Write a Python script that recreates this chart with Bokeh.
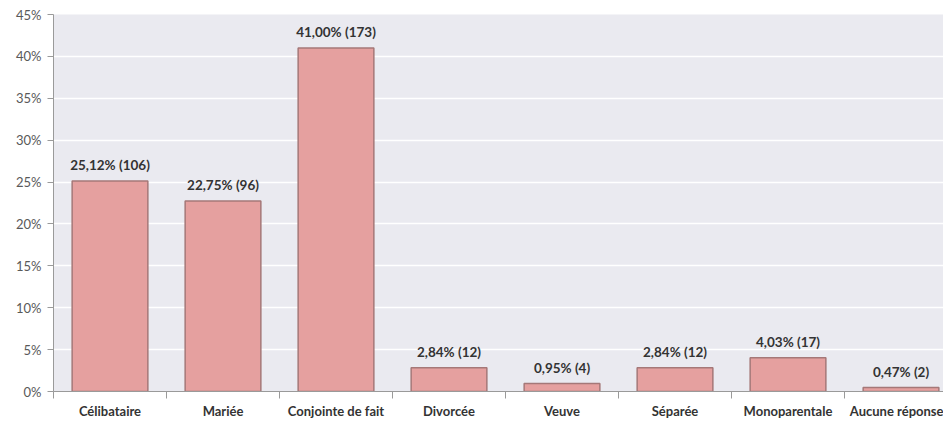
from bokeh.plotting import figure
from bokeh.models import ColumnDataSource, Range1d, FixedTicker
from bokeh.core.properties import value
from bokeh.embed import file_html
from bokeh.resources import INLINE

categories = ["Célibataire", "Mariée", "Conjointe de fait", "Divorcée", "Veuve",
              "Séparée", "Monoparentale", "Aucune réponse"]
percents = [25.12, 22.75, 41.00, 2.84, 0.95, 2.84, 4.03, 0.47]
counts = [106, 96, 173, 12, 4, 12, 17, 2]
y_ticks = [0, 5, 10, 15, 20, 25, 30, 35, 40, 45]

xs = [i + 0.5 for i in range(len(categories))]
labels = [("%.2f" % v).replace(".", ",") + "% (" + str(c) + ")" for v, c in zip(percents, counts)]
source = ColumnDataSource(dict(x=xs, top=percents, label=labels))

FONT = "Lato"

p = figure(width=943, height=421, output_backend="svg", toolbar_location=None,
           x_range=Range1d(0, 7.876), y_range=Range1d(0, 45),
           min_border_left=53, min_border_right=0, min_border_top=14, min_border_bottom=0)
p.background_fill_color = "#EAEAF0"
p.border_fill_color = "white"
p.outline_line_color = None

p.vbar(x="x", top="top", width=0.67, bottom=0, source=source,
       fill_color="#E5A09F", line_color="#A57878", line_width=1.5)

p.text(x="x", y="top", text="label", source=source, y_offset=-8,
       text_align="center", text_baseline="bottom",
       text_font=value(FONT), text_font_style="bold",
       text_font_size="13.5px", text_color="#333333")

# y axis
p.yaxis.ticker = FixedTicker(ticks=y_ticks)
p.yaxis.major_label_overrides = {t: f"{t}%" for t in y_ticks}
p.yaxis.major_label_text_font = FONT
p.yaxis.major_label_text_font_size = "13px"
p.yaxis.major_label_text_color = "#595959"
p.yaxis.axis_line_color = "#9A9A9A"
p.yaxis.major_tick_line_color = "#9A9A9A"
p.yaxis.major_tick_out = 6
p.yaxis.major_tick_in = 0
p.yaxis.minor_tick_line_color = None
p.yaxis.major_label_standoff = 6

# x axis
p.xaxis.ticker = FixedTicker(ticks=xs, minor_ticks=list(range(len(categories) + 1)))
p.xaxis.major_label_overrides = {x: c for x, c in zip(xs, categories)}
p.xaxis.major_label_text_font = FONT
p.xaxis.major_label_text_font_size = "13px"
p.xaxis.major_label_text_font_style = "bold"
p.xaxis.major_label_text_color = "#333333"
p.xaxis.axis_line_color = "#9A9A9A"
p.xaxis.major_tick_line_color = None
p.xaxis.minor_tick_line_color = "#9A9A9A"
p.xaxis.minor_tick_out = 7
p.xaxis.minor_tick_in = 0
p.xaxis.major_tick_out = 7
p.xaxis.major_tick_in = 0
p.xaxis.major_label_standoff = 4

p.xgrid.grid_line_color = None
p.ygrid.ticker = FixedTicker(ticks=y_ticks)
p.ygrid.grid_line_color = "white"
p.ygrid.grid_line_width = 1.5

open("out.html", "w").write(file_html(p, INLINE))
